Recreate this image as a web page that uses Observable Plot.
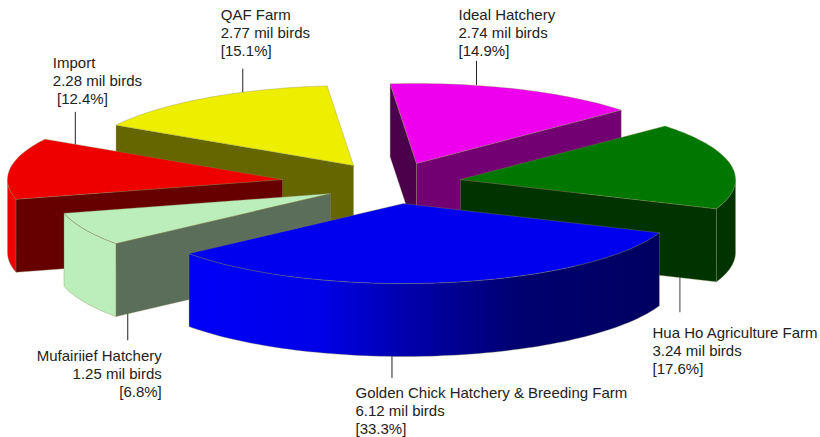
<!DOCTYPE html>
<html>
<head>
<meta charset="utf-8">
<script src="https://cdn.jsdelivr.net/npm/d3@7"></script>
<script src="https://cdn.jsdelivr.net/npm/@observablehq/plot@0.6"></script>
<style>
html,body{margin:0;padding:0;background:#fff}
svg{display:block}
</style>
</head>
<body>
<div id="chart"></div>
<script>
// Data, clockwise from the Golden Chick slice
const names = ["Golden Chick Hatchery & Breeding Farm", "Mufairiief Hatchery", "Import", "QAF Farm", "Ideal Hatchery", "Hua Ho Agriculture Farm"];
const birds = [6.12, 1.25, 2.28, 2.77, 2.74, 3.24];
const shares = [33.3, 6.8, 12.4, 15.1, 14.9, 17.6];

// Colours
const topColors = ["#0000ee", "#bbeebb", "#ee0000", "#eeee00", "#ee00ee", "#007700"];
const startWallColors = ["#000066", "#5a6e5a", "#660000", "#666600", "#4a004a", "#003300"];
const endWallColors = ["#000066", "#5a6e5a", "#660000", "#666600", "#720072", "#003300"];
const rimColors = ["url(#blueRim)", "#bbeebb", "#ee0000", "#666600", "#720072", "#003300"];

// Pie layout
const startAngle = 111.5, radiusX = 275, radiusY = 80, depth = 73;
const explodeX = [403, 330, 282, 353, 416, 460];
const explodeY = [203, 193, 179, 165, 163, 179];

// Leader layout: where a leader leaves the slice (angle, radial fraction), its length
const leaderAngle = [182.4, 235, 285, 336, 12.6, 100];
const leaderFraction = [1, 0.9, 0.78, 0.99, 1, 0.81];
const leaderLength = [22, 33, -51, -24, -24, 49];
const labelDx = [-36.5, 34, -22.5, -22, -18, -27.4];
const labelDy = [7, 7, -8.5, -13.5, -5.5, 12];
const labelAnchor = ["start", "end", "start", "start", "start", "start"];
const labelIndent = ["", "", "\u00a0", "", "", ""];

const total = d3.sum(birds);
const rad = d => d * Math.PI / 180;
let cursor = startAngle;
const slices = birds.map((v, i) => {
  const a0 = cursor, a1 = cursor + v / total * 360;
  cursor = a1;
  return {i, a0, a1};
});
const pt = (s, a, f = 1, drop = 0) => ({
  x: explodeX[s.i] + radiusX * f * Math.sin(rad(a)),
  y: explodeY[s.i] - radiusY * f * Math.cos(rad(a)) + drop
});
const arc = (s, a0, a1, drop = 0) => {
  const as = d3.range(a0, a1, 1.5).concat(a1);
  return as.map(a => pt(s, a, 1, drop));
};
const apex = (s, drop = 0) => ({x: explodeX[s.i], y: explodeY[s.i] + drop});

const edge = {stroke: "#8a8a55", strokeWidth: 0.5, strokeOpacity: 0.7};
const poly = (points, fill, opts = edge) =>
  Plot.line([...points, points[0]], {x: "x", y: "y", fill, ...opts});

function sliceMarks(s) {
  const out = [];
  // outer rim: the part that faces the viewer
  const ranges = [[90, 270], [450, 630]];
  for (const [lo, hi] of ranges) {
    const a0 = Math.max(s.a0, lo), a1 = Math.min(s.a1, hi);
    if (a1 > a0) {
      out.push(poly([...arc(s, a0, a1), ...arc(s, a0, a1, depth).reverse()], rimColors[s.i]));
    }
  }
  // cut walls
  if (Math.sin(rad(s.a0)) < 0)
    out.push(poly([apex(s), pt(s, s.a0), pt(s, s.a0, 1, depth), apex(s, depth)], startWallColors[s.i]));
  if (Math.sin(rad(s.a1)) > 0)
    out.push(poly([apex(s), pt(s, s.a1), pt(s, s.a1, 1, depth), apex(s, depth)], endWallColors[s.i]));
  // top
  out.push(poly([apex(s), ...arc(s, s.a0, s.a1)], topColors[s.i]));
  return out;
}

// Leaders and labels
const leaders = slices.map(s => {
  const below = leaderLength[s.i] > 0;
  const p = pt(s, leaderAngle[s.i], leaderFraction[s.i], below ? depth : 0);
  const endY = p.y + leaderLength[s.i];
  return {
    i: s.i, x: p.x, y1: p.y, y2: endY,
    lx: p.x + labelDx[s.i], ly: endY + labelDy[s.i], below,
    anchor: labelAnchor[s.i],
    text: `${names[s.i]}\n${birds[s.i].toFixed(2)} mil birds\n${labelIndent[s.i]}[${shares[s.i].toFixed(1)}%]`
  };
});

const defs = () => {
  const d = d3.create("svg:defs");
  const g = d.append("linearGradient").attr("id", "blueRim").attr("x1", 0).attr("x2", 1).attr("y1", 0).attr("y2", 0);
  [[0, "#0000f8"], [0.28, "#0000e8"], [0.45, "#0000b0"], [0.7, "#000070"], [1, "#000060"]]
    .forEach(([o, c]) => g.append("stop").attr("offset", o).attr("stop-color", c));
  return d.node();
};

// back-to-front painting order
const paintOrder = [4, 3, 5, 2, 1, 0];

const textMark = (rows, lineAnchor, textAnchor) => Plot.text(rows, {
  x: "lx", y: "ly", text: "text", textAnchor, lineAnchor, lineHeight: 1.2,
  fontSize: 15, fontFamily: "Liberation Sans, Arial, sans-serif", fill: "#222"
});

const chart = Plot.plot({
  width: 820, height: 437,
  marginTop: 0, marginRight: 0, marginBottom: 0, marginLeft: 0,
  x: {domain: [0, 820], range: [0, 820], axis: null},
  y: {domain: [0, 437], range: [0, 437], axis: null},
  style: {background: "#fff"},
  marks: [
    defs,
    Plot.ruleX(leaders, {x: "x", y1: "y1", y2: "y2", stroke: d => d.i === 5 ? "#777" : "#222", strokeWidth: d => d.i === 5 ? 1.4 : 1}),
    ...paintOrder.flatMap(i => sliceMarks(slices[i])),
    textMark(leaders.filter(d => d.below && d.anchor === "start"), "top", "start"),
    textMark(leaders.filter(d => d.below && d.anchor === "end"), "top", "end"),
    textMark(leaders.filter(d => !d.below), "bottom", "start")
  ]
});
document.getElementById("chart").append(chart);
</script>
</body>
</html>
